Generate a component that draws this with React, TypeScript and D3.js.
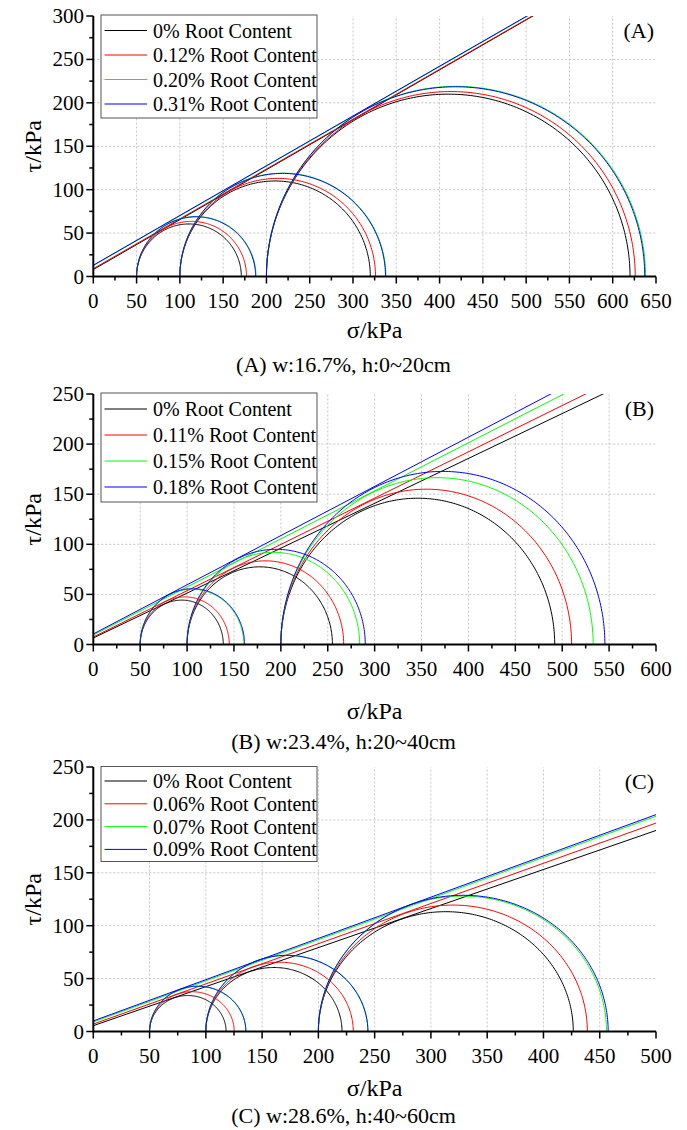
import React from "react";
import * as d3 from "d3";

// ---------- data ----------
const CONFINING = [50, 100, 200]; // σ3 (kPa)
const COLORS = ["#000000", "#ff0000", "#00ff00", "#0000ff"];

// Panel A
const A_LABELS = ["0% Root Content", "0.12% Root Content", "0.20% Root Content", "0.31% Root Content"];
const A_SIGMA1 = [
  [171, 320, 620],
  [177, 326, 626],
  [188, 338, 638],
  [187.5, 337.5, 637],
];
const A_COHESION = [8, 9, 12.5, 13];
const A_TANPHI = [0.575, 0.574, 0.573, 0.573];
const A_XTICKS = [0, 50, 100, 150, 200, 250, 300, 350, 400, 450, 500, 550, 600, 650];
const A_YTICKS = [0, 50, 100, 150, 200, 250, 300];

// Panel B
const B_LABELS = ["0% Root Content", "0.11% Root Content", "0.15% Root Content", "0.18% Root Content"];
const B_SIGMA1 = [
  [138.6, 255, 492],
  [145, 267, 510],
  [160.5, 284, 533],
  [161.3, 290, 545.5],
];
const B_COHESION = [6.5, 7.5, 9.5, 10.5];
const B_TANPHI = [0.448, 0.462, 0.4795, 0.491];
const B_XTICKS = [0, 50, 100, 150, 200, 250, 300, 350, 400, 450, 500, 550, 600];
const B_YTICKS = [0, 50, 100, 150, 200, 250];

// Panel C
const C_LABELS = ["0% Root Content", "0.06% Root Content", "0.07% Root Content", "0.09% Root Content"];
const C_SIGMA1 = [
  [118, 221, 426.5],
  [125.2, 231, 439],
  [135.5, 244, 456],
  [135.6, 244, 457.5],
];
const C_COHESION = [5.5, 7, 9, 10];
const C_TANPHI = [0.369, 0.38, 0.389, 0.39];
const C_XTICKS = [0, 50, 100, 150, 200, 250, 300, 350, 400, 450, 500];
const C_YTICKS = [0, 50, 100, 150, 200, 250];

const CAPTIONS = ["(A) w:16.7%, h:0~20cm", "(B) w:23.4%, h:20~40cm", "(C) w:28.6%, h:40~60cm"];
const TAGS = ["(A)", "(B)", "(C)"];

// ---------- layout ----------
const FONT = "'Liberation Serif', 'Times New Roman', serif";
const LEFT = 93.3;
const RIGHT = 656;

const PANELS = [
  {
    id: "A", labels: A_LABELS, sigma1: A_SIGMA1, c: A_COHESION, tan: A_TANPHI,
    xt: A_XTICKS, yt: A_YTICKS, top: 16, bottom: 276.5,
    legTop: 15, legBottom: 118, legFirst: 15.5, legStep: 24.5,
    titleY: 338, capY: 372, cap: CAPTIONS[0], tag: TAGS[0],
  },
  {
    id: "B", labels: B_LABELS, sigma1: B_SIGMA1, c: B_COHESION, tan: B_TANPHI,
    xt: B_XTICKS, yt: B_YTICKS, top: 394, bottom: 644.5,
    legTop: 393, legBottom: 502, legFirst: 16, legStep: 26,
    titleY: 719, capY: 749, cap: CAPTIONS[1], tag: TAGS[1],
  },
  {
    id: "C", labels: C_LABELS, sigma1: C_SIGMA1, c: C_COHESION, tan: C_TANPHI,
    xt: C_XTICKS, yt: C_YTICKS, top: 767, bottom: 1031.5,
    legTop: 766.5, legBottom: 861.5, legFirst: 14.5, legStep: 22.8,
    titleY: 1096, capY: 1123, cap: CAPTIONS[2], tag: TAGS[2],
  },
];

function Panel({ p }: { p: any }) {
  const xMax = p.xt[p.xt.length - 1];
  const yMax = p.yt[p.yt.length - 1];
  const x = d3.scaleLinear().domain([0, xMax]).range([LEFT, RIGHT]);
  const y = d3.scaleLinear().domain([0, yMax]).range([p.bottom, p.top]);
  const clipId = "clip" + p.id;

  const xMinor = d3.range(0, xMax + 0.01, 25);
  const yMinor = d3.range(0, yMax + 0.01, 25);

  const line = d3.line<[number, number]>().x((d) => x(d[0])).y((d) => y(d[1]));
  const angles = d3.range(0, 181, 1).map((a) => (a * Math.PI) / 180);

  const circlePath = (s3: number, s1: number) => {
    const cx = (s3 + s1) / 2;
    const r = (s1 - s3) / 2;
    const pts: [number, number][] = angles.map((t) => [cx + r * Math.cos(t), r * Math.sin(t)]);
    return line(pts) || "";
  };

  const cy = (p.top + p.bottom) / 2;

  return (
    <g>
      <defs>
        <clipPath id={clipId}>
          <rect x={LEFT} y={p.top} width={RIGHT - LEFT} height={p.bottom - p.top} />
        </clipPath>
      </defs>
      {/* grid */}
      {p.xt.slice(1, -1).map((t: number) => (
        <line key={"gx" + t} x1={x(t)} x2={x(t)} y1={p.bottom} y2={p.top}
          stroke="#c4c4c4" strokeWidth={1} strokeDasharray="2 2" />
      ))}
      {p.yt.slice(1, -1).map((t: number) => (
        <line key={"gy" + t} x1={LEFT} x2={RIGHT} y1={y(t)} y2={y(t)}
          stroke="#c4c4c4" strokeWidth={1} strokeDasharray="2 2" />
      ))}
      {/* data */}
      <g clipPath={`url(#${clipId})`} fill="none" strokeWidth={1}>
        {p.sigma1.map((row: number[], si: number) => (
          <g key={"s" + si} stroke={COLORS[si]}>
            {row.map((s1: number, k: number) => (
              <path key={k} d={circlePath(CONFINING[k], s1)} />
            ))}
            <path d={line([[0, p.c[si]], [xMax, p.c[si] + p.tan[si] * xMax]]) || ""} />
          </g>
        ))}
      </g>
      {/* axes */}
      <line x1={LEFT} x2={RIGHT} y1={p.bottom} y2={p.bottom} stroke="#000" strokeWidth={2} />
      <line x1={LEFT} x2={LEFT} y1={p.bottom + 1} y2={p.top} stroke="#000" strokeWidth={2} />
      {xMinor.map((t: number) => {
        const major = t % 50 === 0;
        return <line key={"tx" + t} x1={x(t)} x2={x(t)} y1={p.bottom} y2={p.bottom + (major ? 7 : 4)} stroke="#000" strokeWidth={1.5} />;
      })}
      {yMinor.map((t: number) => {
        const major = t % 50 === 0;
        return <line key={"ty" + t} x1={LEFT} x2={LEFT - (major ? 7 : 4)} y1={y(t)} y2={y(t)} stroke="#000" strokeWidth={1.5} />;
      })}
      <g fontFamily={FONT} fontSize={21} fill="#000">
        {p.xt.map((t: number) => (
          <text key={"lx" + t} x={x(t)} y={p.bottom + 31} textAnchor="middle">{t}</text>
        ))}
        {p.yt.map((t: number) => (
          <text key={"ly" + t} x={84} y={y(t) + 7} textAnchor="end">{t}</text>
        ))}
      </g>
      {/* titles */}
      <text x={(LEFT + RIGHT) / 2} y={p.titleY} textAnchor="middle" fontFamily={FONT} fontSize={24}>σ/kPa</text>
      <text transform={`translate(41,${cy}) rotate(-90)`} textAnchor="middle" fontFamily={FONT} fontSize={24}>τ/kPa</text>
      <text x={343.5} y={p.capY} textAnchor="middle" fontFamily={FONT} fontSize={22}>{p.cap}</text>
      <text x={654} y={p.top + 21.5} textAnchor="end" fontFamily={FONT} fontSize={22}>{p.tag}</text>
      {/* legend */}
      <rect x={101} y={p.legTop} width={216} height={p.legBottom - p.legTop} fill="#fff" stroke="#555" strokeWidth={1} />
      {p.labels.map((lab: string, i: number) => {
        const ly = p.legTop + p.legFirst + i * p.legStep;
        return (
          <g key={"lg" + i}>
            <line x1={104.5} x2={147} y1={ly} y2={ly} stroke={COLORS[i]} strokeWidth={1} />
            <text x={153} y={ly + 7} fontFamily={FONT} fontSize={20}>{lab}</text>
          </g>
        );
      })}
    </g>
  );
}

export default function App() {
  return (
    <svg width={687} height={1130} style={{ position: "absolute", left: 0, top: 0, background: "#fff" }}>
      <rect x={0} y={0} width={687} height={1130} fill="#fff" />
      {PANELS.map((p) => (
        <Panel key={p.id} p={p} />
      ))}
    </svg>
  );
}
